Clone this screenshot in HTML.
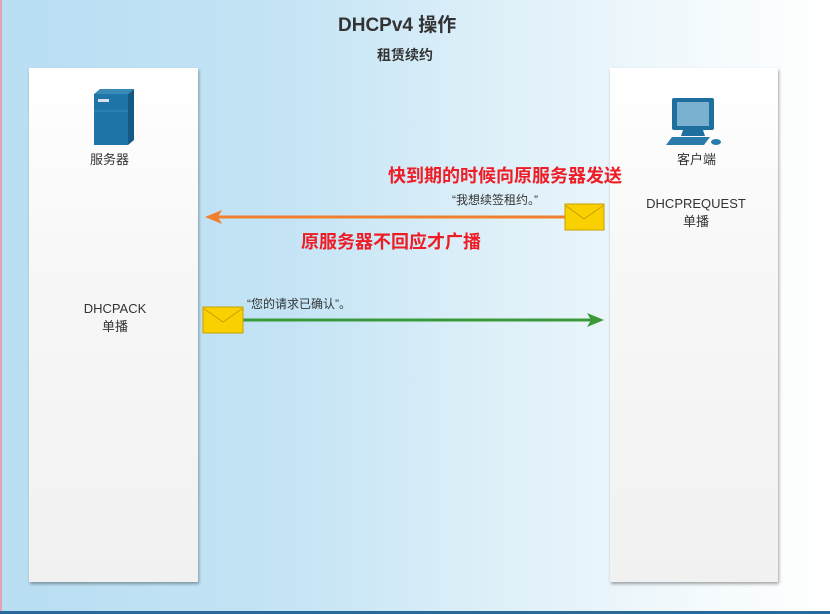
<!DOCTYPE html>
<html><head><meta charset="utf-8"><style>
body{margin:0;width:830px;height:614px;overflow:hidden;position:relative;font-family:"Liberation Sans","Noto Sans CJK SC",sans-serif;
background:linear-gradient(90deg,#b9def2 0%,#c4e4f5 35%,#def0f9 60%,#f4fafd 85%,#fff 100%);}
.p{position:absolute;background:linear-gradient(180deg,#fff 0%,#f7f7f7 40%,#f1f1f1 100%);box-shadow:1px 2px 3px rgba(0,0,0,.35);}
.t{position:absolute;white-space:nowrap;color:#333;}
.r{color:#ee1c25;font-weight:bold;font-size:18px;}
</style></head><body>
<div style="position:absolute;left:0;top:0;width:2px;height:614px;background:#e8a0b8"></div>
<div style="position:absolute;left:0;top:611px;width:830px;height:3px;background:#2a6a9a"></div>
<div class="t" style="left:338px;top:10px;font-size:19px;font-weight:bold">DHCPv4 操作</div>
<div class="t" style="left:377px;top:45px;font-size:14px;font-weight:bold">租赁续约</div>
<div class="p" style="left:29px;top:68px;width:169px;height:514px"></div>
<div class="p" style="left:610px;top:68px;width:168px;height:514px"></div>
<svg style="position:absolute;left:0;top:0" width="830" height="614">
<polygon points="94,94 128,94 134,89 100,89" fill="#3a8ab8"/>
<rect x="94" y="94" width="34" height="51" fill="#1f75a8"/>
<polygon points="128,94 134,89 134,140 128,145" fill="#155a85"/>
<rect x="98" y="99" width="11" height="3" fill="#dde"/>
<line x1="94" y1="111" x2="128" y2="111" stroke="#3a8ab8"/>
<rect x="672" y="98" width="42" height="32" rx="2" fill="#1f6f9e"/><rect x="677" y="102" width="32" height="24" fill="#7ab0d0"/>
<polygon points="683,130 703,130 705,136 681,136" fill="#1f6f9e"/>
<polygon points="672,137 710,137 704,145 666,145" fill="#2a7bab"/>
<path d="M712,133 q6,-2 8,3" stroke="#fff" fill="none"/>
<ellipse cx="716" cy="142" rx="5" ry="3" fill="#2a7bab"/>
<line x1="565" y1="217" x2="215" y2="217" stroke="#f08030" stroke-width="3"/>
<polygon points="205,217 222,210 218,217 222,224" fill="#f08030"/>
<line x1="243" y1="320" x2="595" y2="320" stroke="#3a9a3a" stroke-width="3"/>
<polygon points="604,320 587,313 591,320 587,327" fill="#3a9a3a"/>
<g><rect x="565" y="204" width="39" height="26" fill="#f9d100" stroke="#c8a000"/><polyline points="565,205 584,219 604,205" fill="none" stroke="#c8a000"/></g>
<g><rect x="203" y="307" width="40" height="26" fill="#f9d100" stroke="#c8a000"/><polyline points="203,308 223,322 243,308" fill="none" stroke="#c8a000"/></g>
</svg>
<div class="t" style="left:90px;top:149px;font-size:13px">服务器</div>
<div class="t" style="left:677px;top:149px;font-size:13px">客户端</div>
<div class="t r" style="left:388px;top:162px">快到期的时候向原服务器发送</div>
<div class="t" style="left:452px;top:191px;font-size:12px">“我想续签租约。”</div>
<div class="t" style="left:644px;top:196px;font-size:13px;text-align:center;width:104px">DHCPREQUEST<br>单播</div>
<div class="t r" style="left:301px;top:228px">原服务器不回应才广播</div>
<div class="t" style="left:247px;top:295px;font-size:12px">“您的请求已确认”。</div>
<div class="t" style="left:70px;top:301px;font-size:13px;text-align:center;width:90px">DHCPACK<br>单播</div>
</body></html>
